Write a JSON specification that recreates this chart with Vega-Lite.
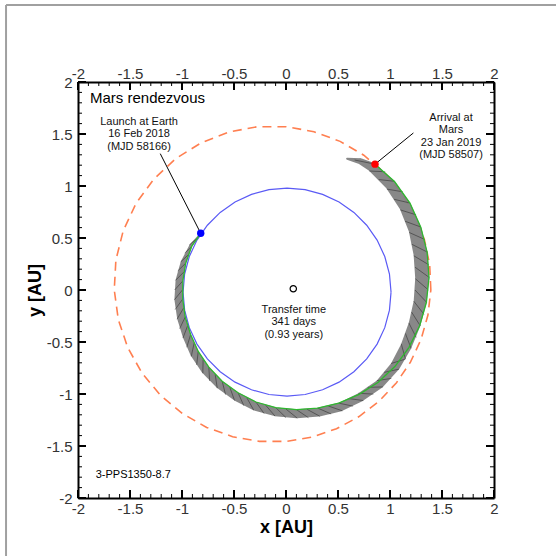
{
  "$schema": "https://vega.github.io/schema/vega-lite/v6.json",
  "width": 416,
  "height": 416,
  "autosize": "none",
  "padding": {"left": 78, "top": 82, "right": 62, "bottom": 58},
  "background": "white",
  "config": {"view": {"stroke": null}, "font": "Liberation Sans"},
  "resolve": {"axis": {"x": "independent", "y": "independent"}},
  "datasets": {
    "frame": [{"x": -2.692, "y": 2.74, "x2": 3.5, "y2": 2.74}, {"x": -2.692, "y": 2.74, "x2": -2.692, "y2": -3.5}],
    "tickvals": [
      {"v": -2, "k": "M"}, {"v": -1.9, "k": "m"}, {"v": -1.8, "k": "m"}, {"v": -1.7, "k": "m"}, {"v": -1.6, "k": "m"},
      {"v": -1.5, "k": "M"}, {"v": -1.4, "k": "m"}, {"v": -1.3, "k": "m"}, {"v": -1.2, "k": "m"}, {"v": -1.1, "k": "m"},
      {"v": -1, "k": "M"}, {"v": -0.9, "k": "m"}, {"v": -0.8, "k": "m"}, {"v": -0.7, "k": "m"}, {"v": -0.6, "k": "m"},
      {"v": -0.5, "k": "M"}, {"v": -0.4, "k": "m"}, {"v": -0.3, "k": "m"}, {"v": -0.2, "k": "m"}, {"v": -0.1, "k": "m"},
      {"v": 0, "k": "M"}, {"v": 0.1, "k": "m"}, {"v": 0.2, "k": "m"}, {"v": 0.3, "k": "m"}, {"v": 0.4, "k": "m"},
      {"v": 0.5, "k": "M"}, {"v": 0.6, "k": "m"}, {"v": 0.7, "k": "m"}, {"v": 0.8, "k": "m"}, {"v": 0.9, "k": "m"},
      {"v": 1, "k": "M"}, {"v": 1.1, "k": "m"}, {"v": 1.2, "k": "m"}, {"v": 1.3, "k": "m"}, {"v": 1.4, "k": "m"},
      {"v": 1.5, "k": "M"}, {"v": 1.6, "k": "m"}, {"v": 1.7, "k": "m"}, {"v": 1.8, "k": "m"}, {"v": 1.9, "k": "m"},
      {"v": 2, "k": "M"}
    ],
    "mars": [
      {"t": 0, "x": 1.3927, "y": 0}, {"t": 10, "x": 1.3815, "y": 0.2436}, {"t": 20, "x": 1.331, "y": 0.4844},
      {"t": 30, "x": 1.2407, "y": 0.7163}, {"t": 40, "x": 1.1121, "y": 0.9332}, {"t": 50, "x": 0.947, "y": 1.1286},
      {"t": 60, "x": 0.7482, "y": 1.296}, {"t": 70, "x": 0.5202, "y": 1.4292}, {"t": 80, "x": 0.2684, "y": 1.5223},
      {"t": 90, "x": 0, "y": 1.5704}, {"t": 100, "x": -0.2767, "y": 1.5697}, {"t": 110, "x": -0.5525, "y": 1.518},
      {"t": 120, "x": -0.817, "y": 1.415}, {"t": 130, "x": -1.0599, "y": 1.263}, {"t": 140, "x": -1.2711, "y": 1.0667},
      {"t": 150, "x": -1.4419, "y": 0.8325}, {"t": 160, "x": -1.5651, "y": 0.5696}, {"t": 170, "x": -1.6357, "y": 0.2883},
      {"t": 180, "x": -1.6513, "y": 0}, {"t": 190, "x": -1.6123, "y": -0.2842}, {"t": 200, "x": -1.5217, "y": -0.5538},
      {"t": 210, "x": -1.3842, "y": -0.7992}, {"t": 220, "x": -1.2066, "y": -1.0125}, {"t": 230, "x": -0.9968, "y": -1.1878},
      {"t": 240, "x": -0.7629, "y": -1.3213}, {"t": 250, "x": -0.5134, "y": -1.4108}, {"t": 260, "x": -0.2565, "y": -1.4553},
      {"t": 270, "x": 0, "y": -1.4559}, {"t": 280, "x": 0.2493, "y": -1.4145}, {"t": 290, "x": 0.4854, "y": -1.3337},
      {"t": 300, "x": 0.7027, "y": -1.217}, {"t": 310, "x": 0.8964, "y": -1.0682}, {"t": 320, "x": 1.0624, "y": -0.8916},
      {"t": 330, "x": 1.1978, "y": -0.6916}, {"t": 340, "x": 1.2993, "y": -0.4729}, {"t": 350, "x": 1.3648, "y": -0.2406},
      {"t": 360, "x": 1.3927, "y": 0}
    ],
    "earth": [
      {"t": 0, "x": 1.01, "y": -0.02}, {"t": 10, "x": 0.9948, "y": 0.1536}, {"t": 20, "x": 0.9497, "y": 0.322},
      {"t": 30, "x": 0.876, "y": 0.48}, {"t": 40, "x": 0.776, "y": 0.6228}, {"t": 50, "x": 0.6528, "y": 0.746},
      {"t": 60, "x": 0.51, "y": 0.846}, {"t": 70, "x": 0.352, "y": 0.9197}, {"t": 80, "x": 0.1836, "y": 0.9648},
      {"t": 90, "x": 0.01, "y": 0.98}, {"t": 100, "x": -0.1636, "y": 0.9648}, {"t": 110, "x": -0.332, "y": 0.9197},
      {"t": 120, "x": -0.49, "y": 0.846}, {"t": 130, "x": -0.6328, "y": 0.746}, {"t": 140, "x": -0.756, "y": 0.6228},
      {"t": 150, "x": -0.856, "y": 0.48}, {"t": 160, "x": -0.9297, "y": 0.322}, {"t": 170, "x": -0.9748, "y": 0.1536},
      {"t": 180, "x": -0.99, "y": -0.02}, {"t": 190, "x": -0.9748, "y": -0.1936}, {"t": 200, "x": -0.9297, "y": -0.362},
      {"t": 210, "x": -0.856, "y": -0.52}, {"t": 220, "x": -0.756, "y": -0.6628}, {"t": 230, "x": -0.6328, "y": -0.786},
      {"t": 240, "x": -0.49, "y": -0.886}, {"t": 250, "x": -0.332, "y": -0.9597}, {"t": 260, "x": -0.1636, "y": -1.0048},
      {"t": 270, "x": 0.01, "y": -1.02}, {"t": 280, "x": 0.1836, "y": -1.0048}, {"t": 290, "x": 0.352, "y": -0.9597},
      {"t": 300, "x": 0.51, "y": -0.886}, {"t": 310, "x": 0.6528, "y": -0.786}, {"t": 320, "x": 0.776, "y": -0.6628},
      {"t": 330, "x": 0.876, "y": -0.52}, {"t": 340, "x": 0.9497, "y": -0.362}, {"t": 350, "x": 0.9948, "y": -0.1936},
      {"t": 360, "x": 1.01, "y": -0.02}
    ],
    "band": [
      {"i": 0, "x": -0.82, "y": 0.545, "w": 0.01}, {"i": 1, "x": -0.915, "y": 0.427, "w": 0.03},
      {"i": 2, "x": -0.988, "y": 0.265, "w": 0.05}, {"i": 3, "x": -1.027, "y": 0.09, "w": 0.07},
      {"i": 4, "x": -1.033, "y": -0.09, "w": 0.08}, {"i": 5, "x": -1.007, "y": -0.27, "w": 0.08},
      {"i": 6, "x": -0.953, "y": -0.445, "w": 0.08}, {"i": 7, "x": -0.877, "y": -0.614, "w": 0.085},
      {"i": 8, "x": -0.771, "y": -0.771, "w": 0.085}, {"i": 9, "x": -0.637, "y": -0.909, "w": 0.085},
      {"i": 10, "x": -0.478, "y": -1.024, "w": 0.085}, {"i": 11, "x": -0.299, "y": -1.116, "w": 0.085},
      {"i": 12, "x": -0.102, "y": -1.171, "w": 0.085}, {"i": 13, "x": 0.104, "y": -1.19, "w": 0.085},
      {"i": 14, "x": 0.314, "y": -1.174, "w": 0.085}, {"i": 15, "x": 0.524, "y": -1.124, "w": 0.085},
      {"i": 16, "x": 0.72, "y": -1.028, "w": 0.085}, {"i": 17, "x": 0.902, "y": -0.902, "w": 0.085},
      {"i": 18, "x": 1.049, "y": -0.734, "w": 0.095}, {"i": 19, "x": 1.156, "y": -0.539, "w": 0.105},
      {"i": 20, "x": 1.236, "y": -0.331, "w": 0.115}, {"i": 21, "x": 1.29, "y": -0.113, "w": 0.125},
      {"i": 22, "x": 1.31, "y": 0.115, "w": 0.135}, {"i": 23, "x": 1.294, "y": 0.347, "w": 0.135},
      {"i": 24, "x": 1.242, "y": 0.579, "w": 0.125}, {"i": 25, "x": 1.147, "y": 0.803, "w": 0.115},
      {"i": 26, "x": 1.008, "y": 1.008, "w": 0.105}, {"i": 27, "x": 0.827, "y": 1.181, "w": 0.09},
      {"i": 28, "x": 0.715, "y": 1.238, "w": 0.06}, {"i": 29, "x": 0.588, "y": 1.262, "w": 0.02}
    ],
    "thrust": [
      {"x": -0.857, "y": 0.495, "x2": -0.929, "y2": 0.433}, {"x": -0.902, "y": 0.42, "x2": -0.974, "y2": 0.355},
      {"x": -0.936, "y": 0.341, "x2": -1.012, "y2": 0.271}, {"x": -0.964, "y": 0.258, "x2": -1.041, "y2": 0.183},
      {"x": -0.982, "y": 0.173, "x2": -1.062, "y2": 0.093}, {"x": -0.992, "y": 0.087, "x2": -1.071, "y2": 0},
      {"x": -0.996, "y": 0, "x2": -1.073, "y2": -0.094}, {"x": -0.993, "y": -0.087, "x2": -1.066, "y2": -0.188},
      {"x": -0.985, "y": -0.174, "x2": -1.048, "y2": -0.281}, {"x": -0.969, "y": -0.26, "x2": -1.023, "y2": -0.372},
      {"x": -0.946, "y": -0.344, "x2": -0.991, "y2": -0.462}, {"x": -0.917, "y": -0.428, "x2": -0.954, "y2": -0.551},
      {"x": -0.883, "y": -0.51, "x2": -0.911, "y2": -0.638}, {"x": -0.844, "y": -0.591, "x2": -0.859, "y2": -0.721},
      {"x": -0.797, "y": -0.669, "x2": -0.8, "y2": -0.8}, {"x": -0.742, "y": -0.742, "x2": -0.734, "y2": -0.875},
      {"x": -0.681, "y": -0.812, "x2": -0.661, "y2": -0.944}, {"x": -0.614, "y": -0.877, "x2": -0.581, "y2": -1.006},
      {"x": -0.54, "y": -0.935, "x2": -0.495, "y2": -1.062}, {"x": -0.461, "y": -0.988, "x2": -0.405, "y2": -1.113},
      {"x": -0.377, "y": -1.036, "x2": -0.31, "y2": -1.156}, {"x": -0.289, "y": -1.077, "x2": -0.21, "y2": -1.189},
      {"x": -0.195, "y": -1.108, "x2": -0.106, "y2": -1.212}, {"x": -0.099, "y": -1.131, "x2": 0, "y2": -1.227},
      {"x": 0, "y": -1.145, "x2": 0.108, "y2": -1.232}, {"x": 0.101, "y": -1.151, "x2": 0.216, "y2": -1.228},
      {"x": 0.202, "y": -1.147, "x2": 0.325, "y2": -1.214}, {"x": 0.304, "y": -1.135, "x2": 0.434, "y2": -1.192},
      {"x": 0.406, "y": -1.115, "x2": 0.542, "y2": -1.162}, {"x": 0.507, "y": -1.088, "x2": 0.645, "y2": -1.117},
      {"x": 0.603, "y": -1.044, "x2": 0.744, "y2": -1.063}, {"x": 0.695, "y": -0.993, "x2": 0.84, "y2": -1.001},
      {"x": 0.786, "y": -0.936, "x2": 0.932, "y2": -0.932}, {"x": 0.872, "y": -0.872, "x2": 1.013, "y2": -0.85},
      {"x": 0.944, "y": -0.792, "x2": 1.087, "y2": -0.761}, {"x": 1.01, "y": -0.707, "x2": 1.149, "y2": -0.664},
      {"x": 1.149, "y": -0.664, "x2": 1.108, "y2": -0.517}, {"x": 1.203, "y": -0.561, "x2": 1.148, "y2": -0.418},
      {"x": 1.252, "y": -0.456, "x2": 1.181, "y2": -0.316}, {"x": 1.292, "y": -0.346, "x2": 1.208, "y2": -0.213},
      {"x": 1.327, "y": -0.234, "x2": 1.228, "y2": -0.107}, {"x": 1.352, "y": -0.118, "x2": 1.24, "y2": 0},
      {"x": 1.37, "y": 0, "x2": 1.243, "y2": 0.109}, {"x": 1.377, "y": 0.121, "x2": 1.241, "y2": 0.219},
      {"x": 1.374, "y": 0.242, "x2": 1.229, "y2": 0.329}, {"x": 1.36, "y": 0.364, "x2": 1.209, "y2": 0.44},
      {"x": 1.334, "y": 0.486, "x2": 1.185, "y2": 0.553}, {"x": 1.298, "y": 0.605, "x2": 1.145, "y2": 0.661},
      {"x": 1.251, "y": 0.723, "x2": 1.1, "y2": 0.77}, {"x": 1.194, "y": 0.836, "x2": 1.039, "y2": 0.872},
      {"x": 1.124, "y": 0.944, "x2": 0.97, "y2": 0.97}, {"x": 1.045, "y": 1.045, "x2": 0.892, "y2": 1.062},
      {"x": 0.954, "y": 1.137, "x2": 0.801, "y2": 1.144}, {"x": 0.856, "y": 1.21, "x2": 0.66, "y2": 1.25}
    ],
    "traj": [
      {"i": 0, "x": -0.82, "y": 0.545}, {"i": 1, "x": -0.906, "y": 0.423}, {"i": 2, "x": -0.964, "y": 0.258},
      {"i": 3, "x": -0.992, "y": 0.087}, {"i": 4, "x": -0.993, "y": -0.087}, {"i": 5, "x": -0.969, "y": -0.26},
      {"i": 6, "x": -0.917, "y": -0.428}, {"i": 7, "x": -0.844, "y": -0.591}, {"i": 8, "x": -0.742, "y": -0.742},
      {"i": 9, "x": -0.614, "y": -0.877}, {"i": 10, "x": -0.461, "y": -0.988}, {"i": 11, "x": -0.289, "y": -1.077},
      {"i": 12, "x": -0.099, "y": -1.131}, {"i": 13, "x": 0.101, "y": -1.151}, {"i": 14, "x": 0.304, "y": -1.135},
      {"i": 15, "x": 0.507, "y": -1.088}, {"i": 16, "x": 0.703, "y": -1.004}, {"i": 17, "x": 0.887, "y": -0.887},
      {"i": 18, "x": 1.049, "y": -0.734}, {"i": 19, "x": 1.183, "y": -0.551}, {"i": 20, "x": 1.285, "y": -0.344},
      {"i": 21, "x": 1.35, "y": -0.118}, {"i": 22, "x": 1.375, "y": 0.12}, {"i": 23, "x": 1.357, "y": 0.364},
      {"i": 24, "x": 1.296, "y": 0.604}, {"i": 25, "x": 1.192, "y": 0.835}, {"i": 26, "x": 1.043, "y": 1.043},
      {"i": 27, "x": 0.856, "y": 1.21}
    ],
    "leaders": [
      {"x": -1.209, "y": 1.311, "x2": -0.82, "y2": 0.545},
      {"x": 1.225, "y": 1.51, "x2": 0.856, "y2": 1.21}
    ],
    "events": [
      {"event": "Launch", "x": -0.82, "y": 0.545},
      {"event": "Arrival", "x": 0.856, "y": 1.21}
    ],
    "sun": [{"x": 0.07, "y": 0.012}],
    "notes": [
      {"x": -1.413, "y": 1.589, "text": "Launch at Earth\n16 Feb 2018\n(MJD 58166)"},
      {"x": 1.587, "y": 1.628, "text": "Arrival at\nMars\n23 Jan 2019\n(MJD 58507)"},
      {"x": 0.075, "y": -0.22, "text": "Transfer time\n341 days\n(0.93 years)"}
    ],
    "heading": [{"x": -1.885, "y": 1.8, "text": "Mars rendezvous"}],
    "code": [{"x": -1.83, "y": -1.81, "text": "3-PPS1350-8.7"}]
  },
  "layer": [
    {
      "data": {"name": "mars"},
      "mark": {"type": "line", "color": "#ff7f50", "strokeWidth": 1.6, "strokeDash": [9, 6]},
      "encoding": {
        "x": {"field": "x", "type": "quantitative", "scale": {"domain": [-2, 2], "nice": false, "zero": false},
          "axis": {"orient": "bottom", "values": [-2, -1.5, -1, -0.5, 0, 0.5, 1, 1.5, 2],
            "title": "x [AU]", "titleFontSize": 18, "titleFontWeight": "bold", "titleColor": "#000", "titlePadding": 2,
            "labelExpr": "'' + datum.value", "ticks": false,
            "labelFontSize": 15, "labelColor": "#333", "labelPadding": 3, "labelFlush": false, "labelOverlap": false,
            "domainColor": "#000", "domainWidth": 2, "grid": false}},
        "y": {"field": "y", "type": "quantitative", "scale": {"domain": [-2, 2], "nice": false, "zero": false},
          "axis": {"orient": "left", "values": [-2, -1.5, -1, -0.5, 0, 0.5, 1, 1.5, 2],
            "title": "y [AU]", "titleFontSize": 18, "titleFontWeight": "bold", "titleColor": "#000", "titlePadding": 2,
            "labelExpr": "'' + datum.value", "ticks": false,
            "labelFontSize": 15, "labelColor": "#333", "labelPadding": 6, "labelFlush": false, "labelOverlap": false,
            "domainColor": "#000", "domainWidth": 2, "grid": false}},
        "order": {"field": "t", "type": "quantitative"}
      }
    },
    {
      "data": {"name": "earth"},
      "mark": {"type": "line", "color": "#5a5af5", "strokeWidth": 1.2},
      "encoding": {
        "x": {"field": "x", "type": "quantitative", "scale": {"domain": [-2, 2], "nice": false, "zero": false},
          "axis": {"orient": "top", "values": [-2, -1.5, -1, -0.5, 0, 0.5, 1, 1.5, 2],
            "title": null, "labelExpr": "'' + datum.value", "ticks": false,
            "labelFontSize": 15, "labelColor": "#333", "labelPadding": 1, "labelFlush": false, "labelOverlap": false,
            "domainColor": "#000", "domainWidth": 2, "grid": false}},
        "y": {"field": "y", "type": "quantitative", "scale": {"domain": [-2, 2], "nice": false, "zero": false},
          "axis": {"orient": "right", "values": [-2, -1.5, -1, -0.5, 0, 0.5, 1, 1.5, 2],
            "title": null, "labels": false, "ticks": false,
            "domainColor": "#000", "domainWidth": 2, "grid": false}},
        "order": {"field": "t", "type": "quantitative"}
      }
    },
    {
      "data": {"name": "tickvals"},
      "transform": [{"filter": "datum.k == 'M'"}],
      "mark": {"type": "rule", "color": "#000", "strokeWidth": 2},
      "encoding": {
        "x": {"field": "v", "type": "quantitative", "scale": {"domain": [-2, 2], "nice": false, "zero": false}, "axis": null},
        "y": {"datum": -2, "type": "quantitative", "scale": {"domain": [-2, 2], "nice": false, "zero": false}, "axis": null},
        "y2": {"datum": -1.923}
      }
    },
    {
      "data": {"name": "tickvals"},
      "transform": [{"filter": "datum.k == 'm'"}],
      "mark": {"type": "rule", "color": "#000", "strokeWidth": 1},
      "encoding": {
        "x": {"field": "v", "type": "quantitative", "scale": {"domain": [-2, 2], "nice": false, "zero": false}, "axis": null},
        "y": {"datum": -2, "type": "quantitative", "scale": {"domain": [-2, 2], "nice": false, "zero": false}, "axis": null},
        "y2": {"datum": -1.9615}
      }
    },
    {
      "data": {"name": "tickvals"},
      "transform": [{"filter": "datum.k == 'M'"}],
      "mark": {"type": "rule", "color": "#000", "strokeWidth": 2},
      "encoding": {
        "x": {"field": "v", "type": "quantitative", "scale": {"domain": [-2, 2], "nice": false, "zero": false}, "axis": null},
        "y": {"datum": 2, "type": "quantitative", "scale": {"domain": [-2, 2], "nice": false, "zero": false}, "axis": null},
        "y2": {"datum": 1.923}
      }
    },
    {
      "data": {"name": "tickvals"},
      "transform": [{"filter": "datum.k == 'm'"}],
      "mark": {"type": "rule", "color": "#000", "strokeWidth": 1},
      "encoding": {
        "x": {"field": "v", "type": "quantitative", "scale": {"domain": [-2, 2], "nice": false, "zero": false}, "axis": null},
        "y": {"datum": 2, "type": "quantitative", "scale": {"domain": [-2, 2], "nice": false, "zero": false}, "axis": null},
        "y2": {"datum": 1.9615}
      }
    },
    {
      "data": {"name": "tickvals"},
      "transform": [{"filter": "datum.k == 'M'"}],
      "mark": {"type": "rule", "color": "#000", "strokeWidth": 2},
      "encoding": {
        "y": {"field": "v", "type": "quantitative", "scale": {"domain": [-2, 2], "nice": false, "zero": false}, "axis": null},
        "x": {"datum": -2, "type": "quantitative", "scale": {"domain": [-2, 2], "nice": false, "zero": false}, "axis": null},
        "x2": {"datum": -1.923}
      }
    },
    {
      "data": {"name": "tickvals"},
      "transform": [{"filter": "datum.k == 'm'"}],
      "mark": {"type": "rule", "color": "#000", "strokeWidth": 1},
      "encoding": {
        "y": {"field": "v", "type": "quantitative", "scale": {"domain": [-2, 2], "nice": false, "zero": false}, "axis": null},
        "x": {"datum": -2, "type": "quantitative", "scale": {"domain": [-2, 2], "nice": false, "zero": false}, "axis": null},
        "x2": {"datum": -1.9615}
      }
    },
    {
      "data": {"name": "tickvals"},
      "transform": [{"filter": "datum.k == 'M'"}],
      "mark": {"type": "rule", "color": "#000", "strokeWidth": 2},
      "encoding": {
        "y": {"field": "v", "type": "quantitative", "scale": {"domain": [-2, 2], "nice": false, "zero": false}, "axis": null},
        "x": {"datum": 2, "type": "quantitative", "scale": {"domain": [-2, 2], "nice": false, "zero": false}, "axis": null},
        "x2": {"datum": 1.923}
      }
    },
    {
      "data": {"name": "tickvals"},
      "transform": [{"filter": "datum.k == 'm'"}],
      "mark": {"type": "rule", "color": "#000", "strokeWidth": 1},
      "encoding": {
        "y": {"field": "v", "type": "quantitative", "scale": {"domain": [-2, 2], "nice": false, "zero": false}, "axis": null},
        "x": {"datum": 2, "type": "quantitative", "scale": {"domain": [-2, 2], "nice": false, "zero": false}, "axis": null},
        "x2": {"datum": 1.9615}
      }
    },
    {
      "data": {"name": "band"},
      "mark": {"type": "trail", "color": "#828282", "opacity": 0.95},
      "encoding": {
        "x": {"field": "x", "type": "quantitative", "scale": {"domain": [-2, 2], "nice": false, "zero": false}, "axis": null},
        "y": {"field": "y", "type": "quantitative", "scale": {"domain": [-2, 2], "nice": false, "zero": false}, "axis": null},
        "size": {"field": "w", "type": "quantitative", "scale": {"type": "linear", "domain": [0, 0.2], "range": [0, 20.8], "zero": true}, "legend": null},
        "order": {"field": "i", "type": "quantitative"}
      }
    },
    {
      "data": {"name": "thrust"},
      "mark": {"type": "rule", "color": "#222", "strokeWidth": 1, "opacity": 0.5},
      "encoding": {
        "x": {"field": "x", "type": "quantitative", "scale": {"domain": [-2, 2], "nice": false, "zero": false}, "axis": null},
        "y": {"field": "y", "type": "quantitative", "scale": {"domain": [-2, 2], "nice": false, "zero": false}, "axis": null},
        "x2": {"field": "x2"},
        "y2": {"field": "y2"}
      }
    },
    {
      "data": {"name": "traj"},
      "mark": {"type": "line", "color": "#2eb82e", "strokeWidth": 1.3},
      "encoding": {
        "x": {"field": "x", "type": "quantitative", "scale": {"domain": [-2, 2], "nice": false, "zero": false}, "axis": null},
        "y": {"field": "y", "type": "quantitative", "scale": {"domain": [-2, 2], "nice": false, "zero": false}, "axis": null},
        "order": {"field": "i", "type": "quantitative"}
      }
    },
    {
      "data": {"name": "leaders"},
      "mark": {"type": "rule", "color": "#000", "strokeWidth": 1},
      "encoding": {
        "x": {"field": "x", "type": "quantitative", "scale": {"domain": [-2, 2], "nice": false, "zero": false}, "axis": null},
        "y": {"field": "y", "type": "quantitative", "scale": {"domain": [-2, 2], "nice": false, "zero": false}, "axis": null},
        "x2": {"field": "x2"},
        "y2": {"field": "y2"}
      }
    },
    {
      "data": {"name": "frame"},
      "mark": {"type": "rule", "color": "#a0a0a0", "strokeWidth": 2},
      "encoding": {
        "x": {"field": "x", "type": "quantitative", "scale": {"domain": [-2, 2], "nice": false, "zero": false}, "axis": null},
        "x2": {"field": "x2"},
        "y": {"field": "y", "type": "quantitative", "scale": {"domain": [-2, 2], "nice": false, "zero": false}, "axis": null},
        "y2": {"field": "y2"}
      }
    },
    {
      "data": {"name": "events"},
      "mark": {"type": "point", "filled": true, "size": 55, "opacity": 1},
      "encoding": {
        "x": {"field": "x", "type": "quantitative", "scale": {"domain": [-2, 2], "nice": false, "zero": false}, "axis": null},
        "y": {"field": "y", "type": "quantitative", "scale": {"domain": [-2, 2], "nice": false, "zero": false}, "axis": null},
        "color": {"field": "event", "type": "nominal", "scale": {"domain": ["Launch", "Arrival"], "range": ["#0000ff", "#ff0000"]}, "legend": null}
      }
    },
    {
      "data": {"name": "sun"},
      "mark": {"type": "point", "filled": false, "size": 40, "color": "#000", "strokeWidth": 1.2, "opacity": 1},
      "encoding": {
        "x": {"field": "x", "type": "quantitative", "scale": {"domain": [-2, 2], "nice": false, "zero": false}, "axis": null},
        "y": {"field": "y", "type": "quantitative", "scale": {"domain": [-2, 2], "nice": false, "zero": false}, "axis": null}
      }
    },
    {
      "data": {"name": "notes"},
      "mark": {"type": "text", "fontSize": 11, "align": "center", "baseline": "alphabetic", "lineBreak": "\n", "lineHeight": 12.6, "color": "#111", "font": "Liberation Sans"},
      "encoding": {
        "x": {"field": "x", "type": "quantitative", "scale": {"domain": [-2, 2], "nice": false, "zero": false}, "axis": null},
        "y": {"field": "y", "type": "quantitative", "scale": {"domain": [-2, 2], "nice": false, "zero": false}, "axis": null},
        "text": {"field": "text", "type": "nominal"}
      }
    },
    {
      "data": {"name": "heading"},
      "mark": {"type": "text", "fontSize": 15, "align": "left", "baseline": "alphabetic", "color": "#000", "font": "Liberation Sans"},
      "encoding": {
        "x": {"field": "x", "type": "quantitative", "scale": {"domain": [-2, 2], "nice": false, "zero": false}, "axis": null},
        "y": {"field": "y", "type": "quantitative", "scale": {"domain": [-2, 2], "nice": false, "zero": false}, "axis": null},
        "text": {"field": "text", "type": "nominal"}
      }
    },
    {
      "data": {"name": "code"},
      "mark": {"type": "text", "fontSize": 11, "align": "left", "baseline": "alphabetic", "color": "#000", "font": "Liberation Sans"},
      "encoding": {
        "x": {"field": "x", "type": "quantitative", "scale": {"domain": [-2, 2], "nice": false, "zero": false}, "axis": null},
        "y": {"field": "y", "type": "quantitative", "scale": {"domain": [-2, 2], "nice": false, "zero": false}, "axis": null},
        "text": {"field": "text", "type": "nominal"}
      }
    }
  ]
}
